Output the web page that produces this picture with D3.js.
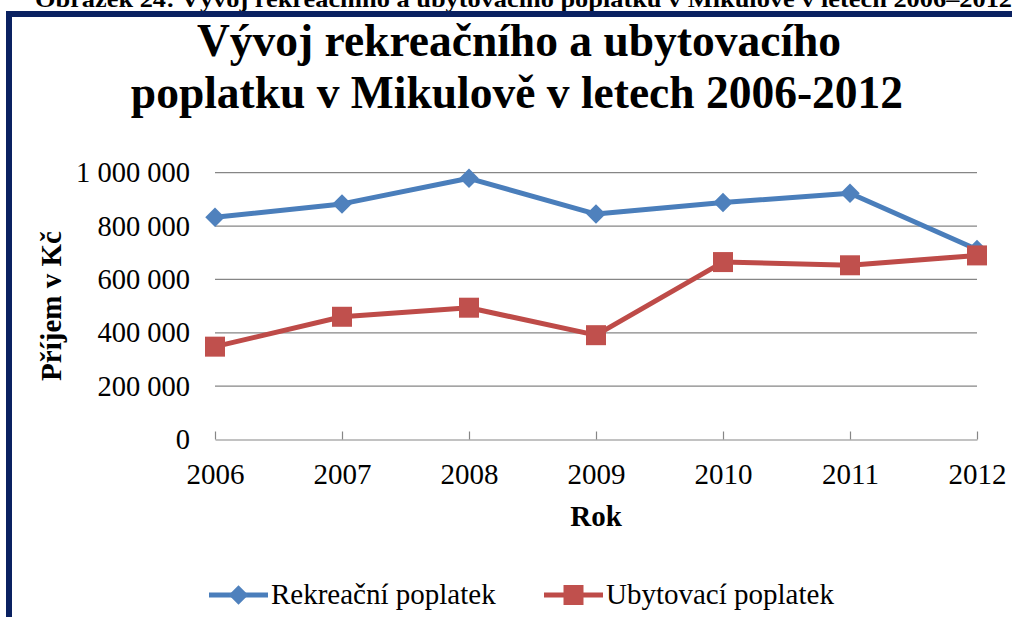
<!DOCTYPE html>
<html>
<head>
<meta charset="utf-8">
<script src="https://cdn.jsdelivr.net/npm/d3@7"></script>
<style>
  body { margin: 0; background: #fff; }
  text { font-family: "Liberation Serif", "Times New Roman", serif; fill: #000; }
</style>
</head>
<body>
<svg id="chart"></svg>
<script>
var years = ["2006", "2007", "2008", "2009", "2010", "2011", "2012"];
var rekreacni = [833000, 883000, 979000, 845000, 888000, 923000, 712000];
var ubytovaci = [348000, 460000, 494000, 391000, 665000, 653000, 690000];
var yTicks = [0, 200000, 400000, 600000, 800000, 1000000];
var seriesNames = ["Rekreační poplatek", "Ubytovací poplatek"];

var width = 1012, height = 617;
var svg = d3.select("#chart")
    .attr("width", width)
    .attr("height", height);

var blue = "#4a7ebb", red = "#be4b48";
var grid = "#868686";

// caption above the frame, cut off by the crop
svg.append("text")
    .attr("x", 35)
    .attr("y", 7)
    .attr("textLength", 977)
    .attr("lengthAdjust", "spacingAndGlyphs")
    .style("font-size", "23px")
    .style("font-weight", "bold")
    .text("Obrázek 24: Vývoj rekreačního a ubytovacího poplatku v Mikulově v letech 2006–2012");

// navy frame
svg.append("rect")
    .attr("x", 9)
    .attr("y", 14)
    .attr("width", 1040)
    .attr("height", 640)
    .attr("fill", "none")
    .attr("stroke", "#0a2161")
    .attr("stroke-width", 6);

// title
var title = svg.append("text")
    .attr("text-anchor", "middle")
    .style("font-size", "45.5px")
    .style("font-weight", "bold");
title.append("tspan").attr("x", 519).attr("y", 56).text("Vývoj rekreačního a ubytovacího");
title.append("tspan").attr("x", 517).attr("y", 108).text("poplatku v Mikulově v letech 2006-2012");

var x = d3.scalePoint()
    .domain(years)
    .range([215, 977]);

var y = d3.scaleLinear()
    .domain([0, 1000000])
    .range([439.5, 172.7]);

var fmt = function(d) { return d3.format(",")(d).replace(/,/g, "\u00a0"); };

// gridlines
svg.append("g")
    .selectAll("line")
    .data(yTicks.filter(d => d > 0))
    .enter()
    .append("line")
    .attr("x1", x.range()[0])
    .attr("x2", x.range()[1])
    .attr("y1", d => y(d))
    .attr("y2", d => y(d))
    .attr("stroke", grid)
    .attr("stroke-width", 1.2);

// y axis labels
var yAxis = svg.append("g")
    .attr("transform", "translate(215,0)")
    .call(d3.axisLeft(y).tickValues(yTicks).tickFormat(fmt).tickSize(0).tickPadding(25));
yAxis.select(".domain").remove();
yAxis.selectAll("text")
    .style("font-family", "Liberation Serif, serif")
    .style("font-size", "28.5px")
    .attr("fill", "#000");

// x axis with inward tick marks
var xAxis = svg.append("g")
    .attr("transform", "translate(0," + y(0) + ")")
    .call(d3.axisBottom(x).tickSizeInner(-8).tickSizeOuter(0).tickPadding(24));
xAxis.select(".domain").attr("stroke", grid).attr("stroke-width", 1.2);
xAxis.selectAll(".tick line").attr("stroke", grid).attr("stroke-width", 1.2);
xAxis.selectAll("text")
    .style("font-family", "Liberation Serif, serif")
    .style("font-size", "29px")
    .attr("fill", "#000");

// axis titles
svg.append("text")
    .attr("x", 596)
    .attr("y", 526)
    .attr("text-anchor", "middle")
    .style("font-size", "29px")
    .style("font-weight", "bold")
    .text("Rok");

svg.append("text")
    .attr("transform", "translate(61,306) rotate(-90)")
    .attr("text-anchor", "middle")
    .style("font-size", "29px")
    .style("font-weight", "bold")
    .text("Příjem v Kč");

var line = d3.line()
    .x((d, i) => x(years[i]))
    .y(d => y(d));

var diamond = d3.symbol().type(d3.symbolSquare).size(190);
var square = d3.symbol().type(d3.symbolSquare).size(400);

function drawSeries(values, color, marker, rotate) {
    svg.append("path")
        .datum(values)
        .attr("d", line)
        .attr("fill", "none")
        .attr("stroke", color)
        .attr("stroke-width", 5)
        .attr("stroke-linejoin", "round")
        .attr("stroke-linecap", "round");
    svg.append("g")
        .selectAll("path")
        .data(values)
        .enter()
        .append("path")
        .attr("d", marker)
        .attr("transform", (d, i) => "translate(" + x(years[i]) + "," + y(d) + ")" + (rotate ? " rotate(45)" : ""))
        .attr("fill", color === blue ? "#4f81bd" : "#c0504d");
}

drawSeries(rekreacni, blue, diamond, true);
drawSeries(ubytovaci, red, square, false);

// legend
var legendItems = [
    { name: seriesNames[0], color: blue, fill: "#4f81bd", marker: diamond, rotate: true, x0: 209 },
    { name: seriesNames[1], color: red, fill: "#c0504d", marker: square, rotate: false, x0: 544 }
];
var legendY = 595;
var lg = svg.append("g")
    .selectAll("g")
    .data(legendItems)
    .enter()
    .append("g")
    .attr("transform", d => "translate(" + d.x0 + "," + legendY + ")");
lg.append("line")
    .attr("x1", 0)
    .attr("x2", 59)
    .attr("stroke", d => d.color)
    .attr("stroke-width", 5);
lg.append("path")
    .attr("d", d => d.marker())
    .attr("transform", d => "translate(29.5,0)" + (d.rotate ? " rotate(45)" : ""))
    .attr("fill", d => d.fill);
lg.append("text")
    .attr("x", 62)
    .attr("y", 0)
    .attr("dy", "0.32em")
    .style("font-size", "29px")
    .text(d => d.name);
</script>
</body>
</html>
